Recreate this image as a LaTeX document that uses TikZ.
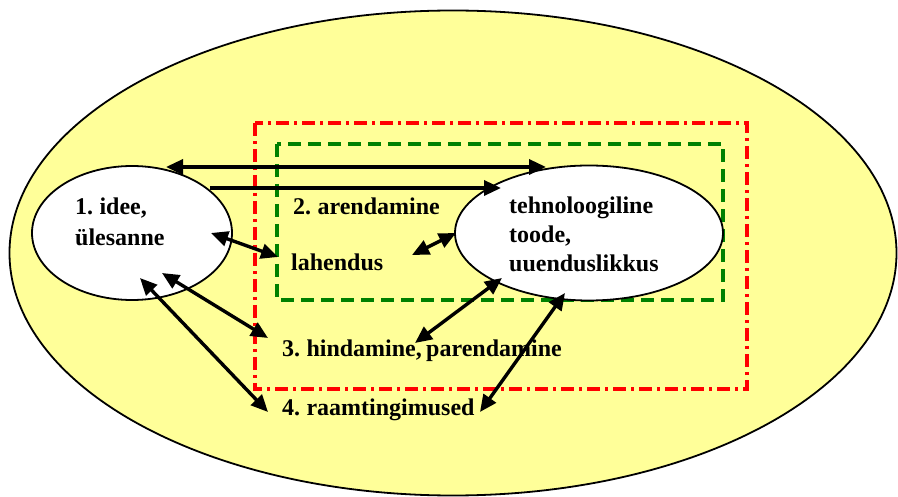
\documentclass[tikz,border=0pt]{standalone}
\usepackage{fontspec}
\setmainfont{Liberation Serif}
\usetikzlibrary{shapes.geometric,arrows.meta}
\definecolor{bgyellow}{RGB}{255,255,153}
\definecolor{dkgreen}{RGB}{0,128,0}
\newcommand{\lblfont}{\bfseries\fontsize{24}{29}\selectfont\spaceskip=0.18em plus 0.05em\relax}
\tikzset{
  oval/.style={ellipse, draw=black, line width=1.8pt, fill=white, inner sep=0pt},
  lbl/.style={anchor=base west, inner sep=0pt, font=\lblfont},
  conn/.style={line width=3.4pt, draw=black},
  both/.style={conn, {Triangle[length=17pt,width=15pt]}-{Triangle[length=17pt,width=15pt]}},
  one/.style={conn, -{Triangle[length=17pt,width=15pt]}},
  redbox/.style={draw=red, line width=3.4pt, dash pattern=on 13pt off 5pt on 3pt off 5pt},
  greenbox/.style={draw=dkgreen, line width=3.4pt, dash pattern=on 13pt off 7pt}
}
\begin{document}
\begin{tikzpicture}[x=1pt,y=-1pt]
\useasboundingbox (0,0) rectangle (898,497);
\node (world) [ellipse, draw=black, line width=1.8pt, fill=bgyellow, inner sep=0pt,
  minimum width=887pt, minimum height=485pt] at (453,253) {};
\draw[redbox] (255,123) rectangle (747,389);
\draw[greenbox] (277,144) rectangle (723,300);
\node (idee) [oval, minimum width=200pt, minimum height=134pt] at (132,233) {};
\node (toode) [oval, minimum width=268pt, minimum height=135pt] at (589,233) {};
% texts
\node (t1a) [lbl] at (75,215) {1. idee,};
\node (t1b) [lbl] at (75,246) {ülesanne};
\node (t2) [lbl] at (293,215) {2. arendamine};
\node (lah) [lbl] at (291,271) {lahendus};
\node (tta) [lbl] at (509,214) {tehnoloogiline};
\node (ttb) [lbl] at (509,243) {toode,};
\node (ttc) [lbl] at (509,272) {uuenduslikkus};
\node (t3) [lbl] at (282,357) {3. hindamine, parendamine};
\node (t4) [lbl] at (282,415) {4. raamtingimused};
% connector ends
\coordinate (a1) at (166,167);
\coordinate (a2) at (546,167);
\coordinate (b1) at (210,188);
\coordinate (b2) at (501,188);
\coordinate (c1) at (211,233);
\coordinate (c2) at (278,257);
\coordinate (d1) at (412,255);
\coordinate (d2) at (456,233);
\coordinate (e1) at (162,273);
\coordinate (e2) at (268,338);
\coordinate (f1) at (140,278);
\coordinate (f2) at (268,412);
\coordinate (g1) at (415,343);
\coordinate (g2) at (502,278);
\coordinate (h1) at (480,412);
\coordinate (h2) at (565,293);
\draw[both] (a1) -- (a2);
\draw[one] (b1) -- (b2);
\draw[both] (c1) -- (c2);
\draw[both] (d1) -- (d2);
\draw[both] (e1) -- (e2);
\draw[both] (f1) -- (f2);
\draw[both] (g1) -- (g2);
\draw[both] (h1) -- (h2);
\end{tikzpicture}
\end{document}
